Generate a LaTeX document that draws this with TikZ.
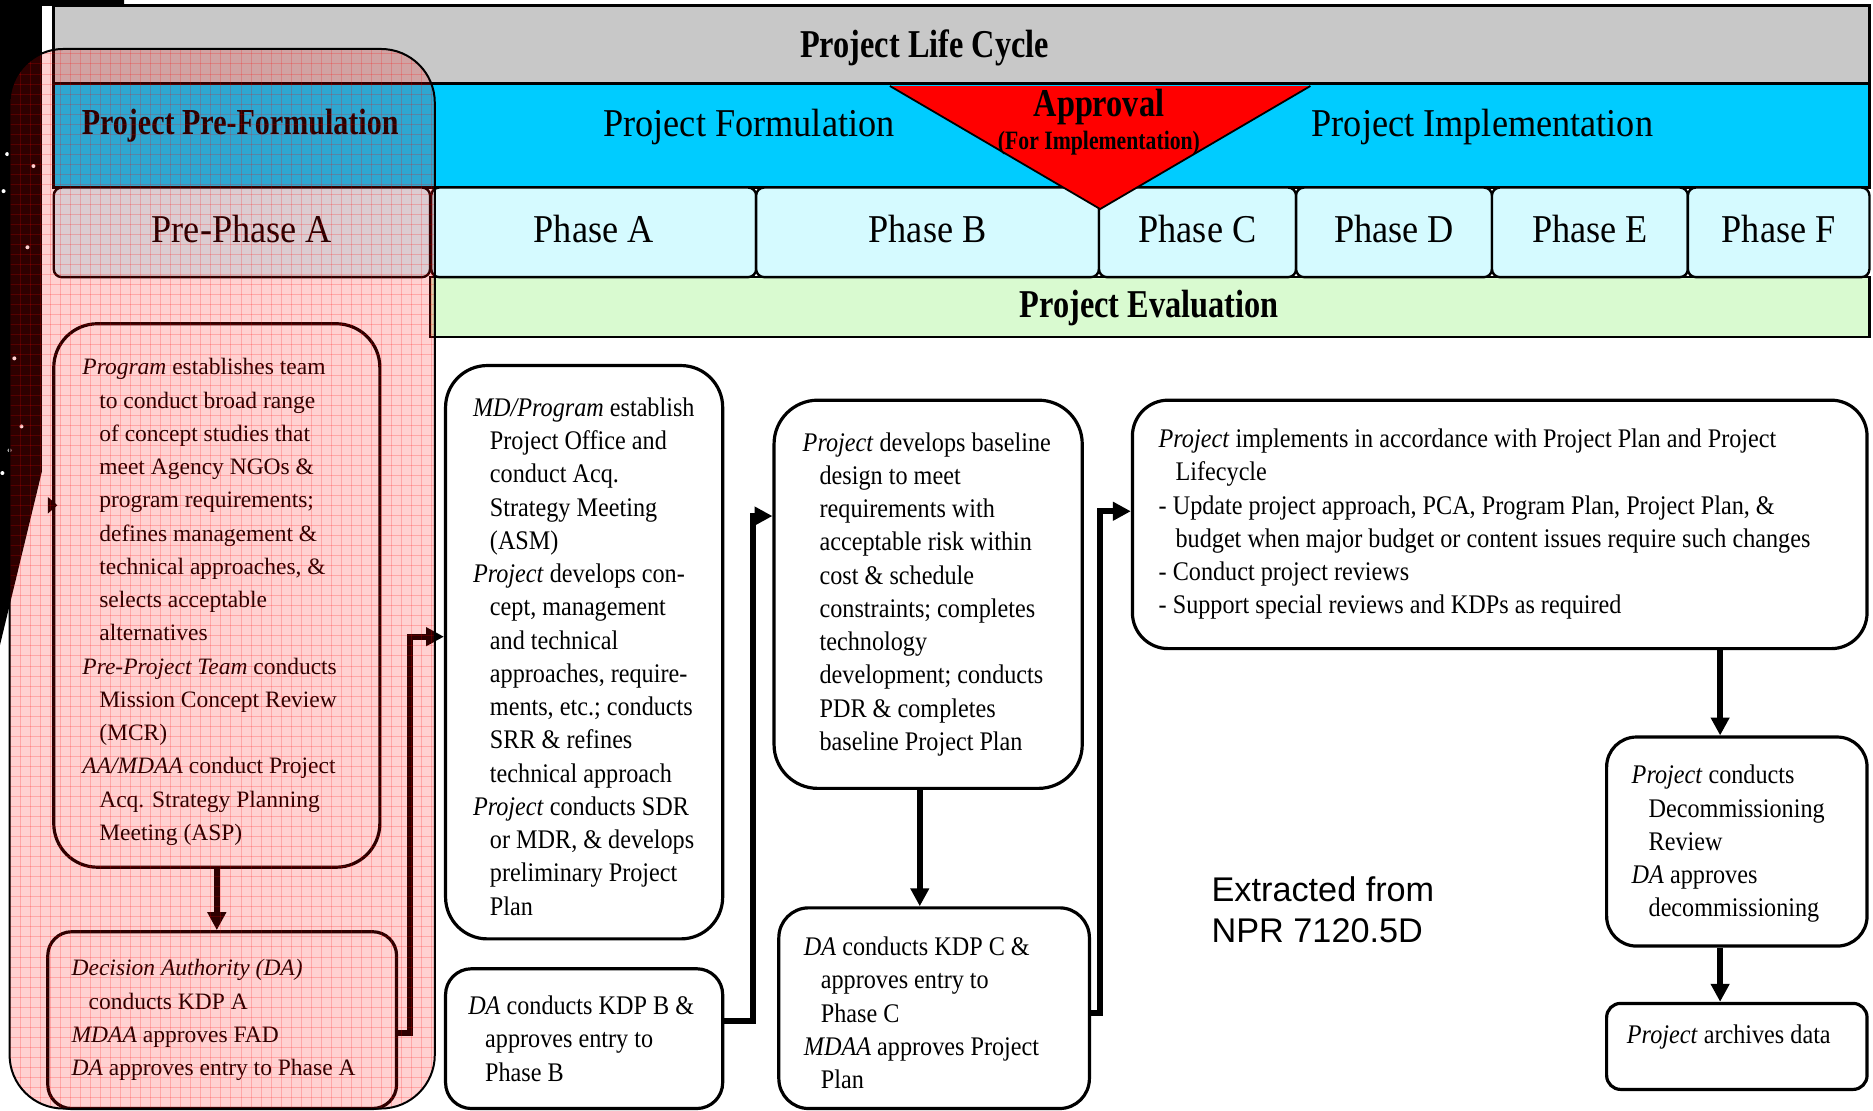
\documentclass[tikz,border=0pt]{standalone}
\usepackage{fontspec}
\setmainfont{Liberation Serif}
\newfontfamily\condfont{Liberation Serif}[FakeStretch=0.9]
\newfontfamily\hdrfont{Liberation Serif}[FakeStretch=0.92]
\newfontfamily\narrowfont{Liberation Serif}[FakeStretch=0.82]
\newfontfamily\arialfont{Liberation Sans}
\usetikzlibrary{arrows.meta}
\definecolor{hdrgray}{RGB}{200,200,200}
\definecolor{bandcyan}{RGB}{0,204,255}
\definecolor{phasecyan}{RGB}{213,250,255}
\definecolor{evalgreen}{RGB}{217,250,208}
\newcommand\ind{\hspace*{8.5pt}}
\tikzset{
  box/.style={draw=black, line width=1.6pt, inner sep=0pt, fill=white},
  txt/.style={inner sep=0pt, align=left, anchor=west, font=\fontsize{11.8pt}{16.7pt}\selectfont},
  ctxt/.style={inner sep=0pt, align=left, anchor=west, font=\condfont\fontsize{13.5pt}{16.7pt}\selectfont},
  conn/.style={line width=3pt, -{Triangle[length=9pt,width=9pt]}},
  phase/.style={draw=black, line width=1.2pt, fill=phasecyan, rounded corners=4pt, minimum height=45pt, inner sep=0pt, text depth=4pt, font=\hdrfont\fontsize{19.8pt}{22pt}\selectfont},
  bandtxt/.style={inner sep=0pt, font=\hdrfont\fontsize{19.8pt}{22pt}\selectfont},
  boldtxt/.style={inner sep=0pt, font=\narrowfont\bfseries\fontsize{19.8pt}{22pt}\selectfont}
}
\begin{document}
\begin{tikzpicture}[x=0.6pt, y=-0.6pt]
\useasboundingbox (0,0) rectangle (1568,930);
\fill[white] (0,0) rectangle (1568,930);
% space panel on the left
\fill[black] (0,0) -- (104,0) -- (104,5) -- (35,5) -- (35,395) -- (0,540) -- cycle;
\foreach \sx/\sy in {3/160, 23/207, 6/129, 28/139, 8/377, 18/357, 2/396, 12/300}
  \fill[white] (\sx,\sy) circle (1pt);
% header bands
\filldraw[fill=hdrgray, draw=black, line width=1.5pt] (45,5) rectangle (1565,70);
\filldraw[fill=bandcyan, draw=black, line width=1.5pt] (45,70) rectangle (1565,157);
\filldraw[fill=evalgreen, draw=black, line width=1.2pt] (360,232) rectangle (1565,282);
% phase boxes
\node[phase, minimum width=189pt] (pre) at (202.5,194.5) {Pre-Phase A};
\node[phase, minimum width=163.2pt] (pA) at (497,194.5) {Phase A};
\node[phase, minimum width=172.2pt] (pB) at (776.5,194.5) {Phase B};
\node[phase, minimum width=99pt] (pC) at (1002.5,194.5) {Phase C};
\node[phase, minimum width=98.4pt] (pD) at (1167,194.5) {Phase D};
\node[phase, minimum width=98.4pt] (pE) at (1331,194.5) {Phase E};
\node[phase, minimum width=91.2pt] (pF) at (1489,194.5) {Phase F};
% approval triangle
\fill[red] (745,72) -- (1097,72) -- (921,175) -- cycle;
\draw[black, line width=0.9pt] (745,72) -- (921,175) -- (1097,72);
% header texts
\node[boldtxt] (lcT) at (774,40) {Project Life Cycle};
\node[boldtxt, font=\narrowfont\bfseries\fontsize{18.4pt}{20pt}\selectfont] (pfT) at (201,105) {Project Pre-Formulation};
\node[bandtxt] (fT) at (627,106) {Project Formulation};
\node[bandtxt] (iT) at (1241,106) {Project Implementation};
\node[boldtxt] (apT) at (920,90) {Approval};
\node[boldtxt, font=\narrowfont\bfseries\fontsize{13.3pt}{15pt}\selectfont] (apS) at (920,120) {(For Implementation)};
\node[boldtxt] (evT) at (962,258) {Project Evaluation};
% process boxes
\node[box, rounded corners=22pt, minimum width=163.8pt, minimum height=273pt] (box1) at (181.5,498.5) {};
\node[box, rounded corners=12pt, minimum width=175.2pt, minimum height=88.8pt] (box2) at (186,854) {};
\node[box, rounded corners=21pt, minimum width=139.2pt, minimum height=288pt] (boxA) at (489,546) {};
\node[box, rounded corners=13pt, minimum width=139.2pt, minimum height=70.2pt] (boxAp) at (489,869.5) {};
\node[box, rounded corners=22pt, minimum width=154.8pt, minimum height=195pt] (boxB) at (777,497.5) {};
\node[box, rounded corners=15pt, minimum width=156pt, minimum height=100.8pt] (boxBp) at (782,844) {};
\node[box, rounded corners=18pt, minimum width=369pt, minimum height=124.8pt] (boxC) at (1255.5,439) {};
\node[box, rounded corners=15pt, minimum width=130.8pt, minimum height=105pt] (boxD) at (1454,704.5) {};
\node[box, rounded corners=7pt, minimum width=130.8pt, minimum height=43.2pt] (boxE) at (1454,876) {};
% box texts
\node[txt] (t1) at ([xshift=15pt, yshift=-3.3pt]box1.west) {\textit{Program} establishes team\\
\ind to conduct broad range\\
\ind of concept studies that\\
\ind meet Agency NGOs \&\\
\ind program requirements;\\
\ind defines management \&\\
\ind technical approaches, \&\\
\ind selects acceptable\\
\ind alternatives\\
\textit{Pre-Project Team} conducts\\
\ind Mission Concept Review\\
\ind (MCR)\\
\textit{AA/MDAA} conduct Project\\
\ind Acq. Strategy Planning\\
\ind Meeting (ASP)};
\node[txt] (t2) at ([xshift=12.6pt]box2.west) {\textit{Decision Authority (DA)}\\
\ind conducts KDP A\\
\textit{MDAA} approves FAD\\
\textit{DA} approves entry to Phase A};
\node[ctxt] (tA) at ([xshift=14.4pt, yshift=-2.2pt]boxA.west) {\textit{MD/Program} establish\\
\ind Project Office and\\
\ind conduct Acq.\\
\ind Strategy Meeting\\
\ind (ASM)\\
\textit{Project} develops con-\\
\ind cept, management\\
\ind and technical\\
\ind approaches, require-\\
\ind ments, etc.; conducts\\
\ind SRR \& refines\\
\ind technical approach\\
\textit{Project} conducts SDR\\
\ind or MDR, \& develops\\
\ind preliminary Project\\
\ind Plan};
\node[ctxt] (tAp) at ([xshift=12pt]boxAp.west) {\textit{DA} conducts KDP B \&\\
\ind approves entry to\\
\ind Phase B};
\node[ctxt] (tB) at ([xshift=15pt]boxB.west) {\textit{Project} develops baseline\\
\ind design to meet\\
\ind requirements with\\
\ind acceptable risk within\\
\ind cost \& schedule\\
\ind constraints; completes\\
\ind technology\\
\ind development; conducts\\
\ind PDR \& completes\\
\ind baseline Project Plan};
\node[ctxt] (tBp) at ([xshift=13.2pt, yshift=-2.4pt]boxBp.west) {\textit{DA} conducts KDP C \&\\
\ind approves entry to\\
\ind Phase C\\
\textit{MDAA} approves Project\\
\ind Plan};
\node[ctxt] (tC) at ([xshift=13.8pt]boxC.west) {\textit{Project} implements in accordance with Project Plan and Project\\
\ind Lifecycle\\
- Update project approach, PCA, Program Plan, Project Plan, \&\\
\ind budget when major budget or content issues require such changes\\
- Conduct project reviews\\
- Support special reviews and KDPs as required};
\node[ctxt] (tD) at ([xshift=13.2pt, yshift=-1.2pt]boxD.west) {\textit{Project} conducts\\
\ind Decommissioning\\
\ind Review\\
\textit{DA} approves\\
\ind decommissioning};
\node[ctxt, anchor=north west] (tE) at ([xshift=10.8pt, yshift=-11.5pt]boxE.north west) {\textit{Project} archives data};
% source note
\node[anchor=north west, inner sep=0pt, align=left, font=\arialfont\fontsize{17.2pt}{20.4pt}\selectfont] (src) at (1014,734) {Extracted from\\NPR 7120.5D};
% connectors
\coordinate (k1) at (343,865);
\coordinate (k2) at (343,533);
\coordinate (k3) at (630,855);
\coordinate (k4) at (630,432);
\coordinate (k5) at (921,848);
\coordinate (k6) at (921,428);
\coordinate (k7) at (770,700);
\coordinate (k8) at (1440,580);
\draw[conn] (box1.south) -- (box1.south |- box2.north);
\draw[conn] (box2.east |- k1) -- (k1) -- (k2) -- (boxA.west |- k2);
\draw[conn] (boxAp.east |- k3) -- (k3) -- (k4) -- (boxB.west |- k4);
\draw[conn] (boxB.south -| k7) -- (boxBp.north -| k7);
\draw[conn] (boxBp.east |- k5) -- (k5) -- (k6) -- (boxC.west |- k6);
\draw[conn] (boxC.south -| k8) -- (boxD.north -| k8);
\draw[conn] (boxD.south -| k8) -- (boxE.north -| k8);
% small arrow tip at left edge
\fill[black] (40,416) -- (48,423) -- (40,430) -- cycle;
% pink pre-formulation overlay with grid
\begin{scope}
  \clip[rounded corners=27pt] (8,41) rectangle (364,928);
  \fill[red, opacity=0.18] (8,41) rectangle (364,928);
  \foreach \gx in {8.4,16.8,...,364} \draw[red, opacity=0.2, line width=0.3pt] (\gx,41) -- (\gx,928);
  \foreach \gy in {45,53.4,...,928} \draw[red, opacity=0.2, line width=0.3pt] (8,\gy) -- (364,\gy);
\end{scope}
\draw[black, line width=1pt, rounded corners=27pt] (8,41) rectangle (364,928);
\end{tikzpicture}
\end{document}
